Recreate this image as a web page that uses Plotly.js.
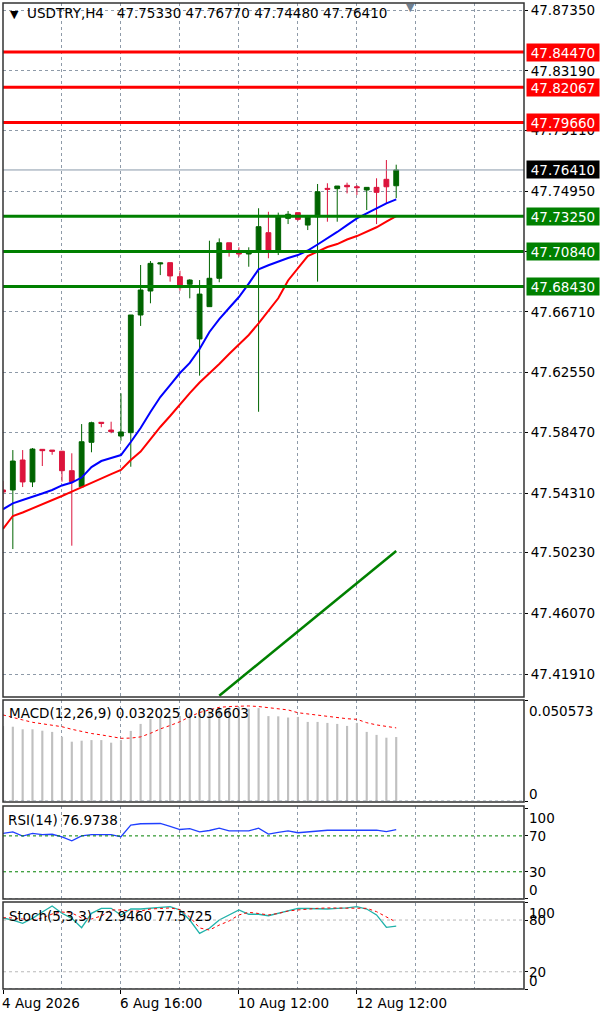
<!DOCTYPE html>
<html>
<head>
<meta charset="utf-8">
<script src="https://cdn.plot.ly/plotly-3.0.1.min.js"></script>
<style>
  html, body { margin: 0; padding: 0; background: #fff; }
  #chart { width: 600px; height: 1011px; }
</style>
</head>
<body>
<div id="chart"></div>
<script>
// USDTRY H4 bars, index 0..40 (oldest first)
const bars = [0, 1, 2, 3, 4, 5, 6, 7, 8, 9, 10, 11, 12, 13, 14, 15, 16, 17, 18, 19, 20,
  21, 22, 23, 24, 25, 26, 27, 28, 29, 30, 31, 32, 33, 34, 35, 36, 37, 38, 39, 40];

const open = [47.5452, 47.5452, 47.5657, 47.5507, 47.5730, 47.5725, 47.5717, 47.5584, 47.5474, 47.5778,
  47.5915, 47.5862, 47.5821, 47.5844, 47.6649, 47.6813, 47.6998, 47.7007, 47.6911, 47.6859,
  47.6485, 47.6706, 47.6900, 47.7143, 47.7080, 47.7066, 47.7082, 47.7212, 47.7089, 47.7310,
  47.7349, 47.7264, 47.7321, 47.7515, 47.7513, 47.7536, 47.7526, 47.7504, 47.7522, 47.7577, 47.7533];
const high = [47.5513, 47.5725, 47.5725, 47.5739, 47.5732, 47.5725, 47.5719, 47.5703, 47.5903, 47.5919,
  47.5915, 47.5919, 47.6113, 47.6649, 47.6991, 47.7018, 47.7007, 47.7007, 47.6952, 47.6893,
  47.6888, 47.7157, 47.7173, 47.7143, 47.7112, 47.7112, 47.7379, 47.7355, 47.7349, 47.7360,
  47.7349, 47.7333, 47.7545, 47.7550, 47.7531, 47.7554, 47.7538, 47.7522, 47.7584, 47.7709, 47.7677];
const low = [47.5383, 47.5048, 47.5472, 47.5472, 47.5616, 47.5693, 47.5509, 47.5071, 47.5474, 47.5710,
  47.5881, 47.5840, 47.5789, 47.5611, 47.6574, 47.6729, 47.6922, 47.6877, 47.6815, 47.6763,
  47.6234, 47.6706, 47.6873, 47.7048, 47.7048, 47.6979, 47.5987, 47.7037, 47.7059, 47.7271,
  47.7294, 47.7230, 47.6877, 47.7287, 47.7287, 47.7481, 47.7470, 47.7367, 47.7271, 47.7413, 47.7448];
const close = [47.5438, 47.5650, 47.5507, 47.5732, 47.5721, 47.5717, 47.5584, 47.5509, 47.5782, 47.5912,
  47.5908, 47.5851, 47.5849, 47.6649, 47.6820, 47.7002, 47.7005, 47.6916, 47.6836, 47.6888,
  47.6792, 47.6900, 47.7143, 47.7082, 47.7066, 47.7075, 47.7253, 47.7093, 47.7321, 47.7338,
  47.7303, 47.7321, 47.7492, 47.7509, 47.7531, 47.7526, 47.7520, 47.7522, 47.7488, 47.7526, 47.7641];

// moving averages (blue fast, red slow)
const maFast = [47.5320, 47.5361, 47.5383, 47.5404, 47.5428, 47.5452, 47.5483, 47.5503, 47.5537, 47.5609,
  47.5650, 47.5671, 47.5691, 47.5780, 47.5876, 47.5985, 47.6088, 47.6170, 47.6252, 47.6321,
  47.6416, 47.6533, 47.6621, 47.6697, 47.6772, 47.6864, 47.6961, 47.6989, 47.7016, 47.7039,
  47.7059, 47.7090, 47.7131, 47.7172, 47.7217, 47.7264, 47.7310, 47.7344, 47.7379, 47.7412, 47.7440];
const maSlow = [47.5185, 47.5274, 47.5298, 47.5325, 47.5356, 47.5383, 47.5411, 47.5441, 47.5472, 47.5503,
  47.5534, 47.5561, 47.5589, 47.5657, 47.5715, 47.5801, 47.5883, 47.5958, 47.6040, 47.6115,
  47.6187, 47.6249, 47.6314, 47.6382, 47.6447, 47.6512, 47.6592, 47.6676, 47.6763, 47.6885,
  47.6970, 47.7052, 47.7082, 47.7114, 47.7134, 47.7165, 47.7189, 47.7219, 47.7249, 47.7287, 47.7326];

// drawn trendline (two anchor bars and prices)
const trendBars = [22, 40];
const trendPrices = [47.4045, 47.5035];

const resistance = [47.84470, 47.82067, 47.79660];
const support = [47.73250, 47.70840, 47.68430];
const lastPrice = 47.76410;

const priceTicks = [47.87350, 47.83190, 47.79110, 47.74950, 47.70830, 47.66710, 47.62550,
  47.58470, 47.54310, 47.50230, 47.46070, 47.41910];

const macdMain = [0.0376, 0.0372, 0.0359, 0.0359, 0.0352, 0.0346, 0.0322, 0.0297, 0.0302, 0.0305,
  0.0305, 0.0292, 0.0305, 0.0351, 0.0386, 0.0411, 0.0421, 0.0426, 0.0426, 0.0440,
  0.0436, 0.0450, 0.0460, 0.0468, 0.0470, 0.0462, 0.0465, 0.0425, 0.0424, 0.0418,
  0.0421, 0.0396, 0.0396, 0.0391, 0.0386, 0.0376, 0.0391, 0.0346, 0.0331, 0.0317, 0.032025];
const macdSignal = [0.0431, 0.0417, 0.0406, 0.0394, 0.0387, 0.0380, 0.0372, 0.0359, 0.0348, 0.0338,
  0.0331, 0.0321, 0.0314, 0.0315, 0.0321, 0.0339, 0.0361, 0.0378, 0.0397, 0.0422,
  0.0443, 0.0456, 0.0469, 0.0473, 0.0476, 0.0476, 0.0473, 0.0468, 0.0462, 0.0456,
  0.0442, 0.0436, 0.0431, 0.0423, 0.0418, 0.0412, 0.0409, 0.0392, 0.0381, 0.0372, 0.036603];

const rsi = [72.7, 74.5, 69.8, 72.7, 71.5, 71.8, 69.0, 64.5, 70.0, 71.5,
  71.5, 71.5, 69.0, 82.0, 83.5, 83.8, 83.8, 80.5, 77.1, 78.0,
  74.5, 76.0, 78.6, 75.5, 75.5, 75.5, 78.6, 72.0, 74.0, 75.6,
  73.5, 74.5, 76.0, 76.3, 76.3, 76.3, 76.3, 76.3, 76.3, 74.8, 76.9738];

const stochMain = [82.4, 80.0, 76.2, 82.0, 89.3, 96.3, 87.8, 82.0, 71.1, 87.8,
  93.6, 93.6, 85.9, 92.8, 92.8, 93.6, 94.3, 95.5, 91.7, 80.0,
  64.6, 70.4, 80.0, 85.9, 91.7, 86.7, 86.7, 85.0, 87.8, 90.5,
  93.6, 93.4, 92.8, 92.8, 93.6, 94.0, 95.5, 92.8, 85.9, 71.6, 72.946];
const stochSignal = [82.7, 82.4, 81.2, 80.0, 82.4, 87.0, 89.3, 88.2, 82.4, 81.2,
  84.7, 91.7, 91.7, 90.5, 90.5, 92.8, 93.4, 94.0, 92.2, 83.5,
  70.8, 68.4, 74.2, 78.9, 85.9, 89.0, 87.6, 85.9, 87.6, 90.5,
  91.7, 92.8, 93.6, 94.0, 94.0, 94.3, 94.0, 93.6, 89.7, 83.9, 77.5725];

const timeTickBars = [0, 12, 24, 36];
const timeTickText = ['4 Aug 2026', '6 Aug 16:00', '10 Aug 12:00', '12 Aug 12:00'];

// ---- page geometry (pixels -> paper fractions)
const W = 600, H = 1011;
const M = { l: 3, r: 76, t: 3, b: 22, pad: 0 };
const py = p => (H - M.b - p) / (H - M.t - M.b);

const FONT = 'DejaVu Sans';
const FS = 13.5;
const GRID = '#8e9aa8';

const traces = [
  {
    type: 'candlestick', x: bars, open: open, high: high, low: low, close: close,
    xaxis: 'x', yaxis: 'y', whiskerwidth: 0, hoverinfo: 'skip',
    increasing: { line: { color: '#006400', width: 1 }, fillcolor: '#006400' },
    decreasing: { line: { color: '#dc143c', width: 1 }, fillcolor: '#dc143c' }
  },
  { type: 'scatter', mode: 'lines', x: bars, y: maFast, xaxis: 'x', yaxis: 'y',
    line: { color: '#0000ff', width: 2 }, hoverinfo: 'skip' },
  { type: 'scatter', mode: 'lines', x: bars, y: maSlow, xaxis: 'x', yaxis: 'y',
    line: { color: '#ff0000', width: 2 }, hoverinfo: 'skip' },
  { type: 'scatter', mode: 'lines', x: trendBars, y: trendPrices, xaxis: 'x', yaxis: 'y',
    line: { color: '#008000', width: 2.5 }, hoverinfo: 'skip' },

  { type: 'bar', x: bars, y: macdMain, xaxis: 'x', yaxis: 'y2', width: 0.22,
    marker: { color: '#c0c0c0', line: { width: 0 } }, hoverinfo: 'skip' },
  { type: 'scatter', mode: 'lines', x: bars, y: macdSignal, xaxis: 'x', yaxis: 'y2',
    line: { color: '#ff0000', width: 1, dash: '3px,3px' }, hoverinfo: 'skip' },

  { type: 'scatter', mode: 'lines', x: bars, y: rsi, xaxis: 'x', yaxis: 'y3',
    line: { color: '#2040ff', width: 1.3 }, hoverinfo: 'skip' },

  { type: 'scatter', mode: 'lines', x: bars, y: stochMain, xaxis: 'x', yaxis: 'y4',
    line: { color: '#20b2aa', width: 1.3 }, hoverinfo: 'skip' },
  { type: 'scatter', mode: 'lines', x: bars, y: stochSignal, xaxis: 'x', yaxis: 'y4',
    line: { color: '#ff0000', width: 1, dash: '3px,3px' }, hoverinfo: 'skip' }
];

const shapes = [];
const hline = (yref, v, color, width, dash) => shapes.push({
  type: 'line', xref: 'paper', x0: 0, x1: 1, yref: yref, y0: v, y1: v,
  line: { color: color, width: width, dash: dash || 'solid' }
});

hline('y', lastPrice, '#8898aa', 1);
resistance.forEach(v => hline('y', v, '#ff0000', 3));
support.forEach(v => hline('y', v, '#008000', 3));
hline('y2', 0, GRID, 1, '3px,3px');
hline('y3', 70, '#008000', 1, '3px,3px');
hline('y3', 30, '#008000', 1, '3px,3px');
hline('y3', 0, GRID, 1, '3px,3px');
hline('y4', 80, '#b8b8b8', 1, '3px,3px');
hline('y4', 20, '#b8b8b8', 1, '3px,3px');
hline('y4', 0, GRID, 1, '3px,3px');

// panel frames
[[3, 697], [700, 802], [806, 899], [902, 989]].forEach(([top, bot]) => shapes.push({
  type: 'rect', xref: 'paper', yref: 'paper', x0: 0, x1: 1, y0: py(bot), y1: py(top),
  line: { color: '#333', width: 1.5 }, fillcolor: 'rgba(0,0,0,0)'
}));

const annotations = [];
const note = (o) => annotations.push(Object.assign({
  showarrow: false, font: { family: FONT, size: FS, color: '#000' }
}, o));

// level labels on the price scale
const levelBox = (v, bg) => note({
  xref: 'paper', x: 1, xanchor: 'left', xshift: 2, yref: 'y', y: v, yanchor: 'middle',
  text: v.toFixed(5), bgcolor: bg, width: 70, height: 15, borderpad: 1, align: 'center',
  font: { family: FONT, size: FS, color: '#fff' }
});
resistance.forEach(v => levelBox(v, '#ff0000'));
support.forEach(v => levelBox(v, '#008000'));
levelBox(lastPrice, '#000');

// panel titles
note({ xref: 'paper', x: 0, xanchor: 'left', xshift: 5, yref: 'paper', y: py(13), yanchor: 'middle',
  text: '<span style="font-size:11px">▼</span>\u00a0 USDTRY,H4\u00a0\u00a0 47.75330 47.76770 47.74480 47.76410' });
note({ xref: 'paper', x: 0.783, xanchor: 'center', yref: 'paper', y: py(7), yanchor: 'middle',
  text: '▼', font: { family: FONT, size: 11, color: '#708090' } });
note({ xref: 'paper', x: 0, xanchor: 'left', xshift: 4, yref: 'paper', y: py(713), yanchor: 'middle',
  text: 'MACD(12,26,9) 0.032025 0.036603' });
note({ xref: 'paper', x: 0, xanchor: 'left', xshift: 3, yref: 'paper', y: py(820), yanchor: 'middle',
  text: 'RSI(14) 76.9738' });
note({ xref: 'paper', x: 0, xanchor: 'left', xshift: 4, yref: 'paper', y: py(916), yanchor: 'middle',
  text: 'Stoch(5,3,3) 72.9460 77.5725' });

// sub-window scale labels
const sideLabel = (text, pix) => note({
  xref: 'paper', x: 1, xanchor: 'left', xshift: 3, yref: 'paper', y: py(pix), yanchor: 'middle', text: text
});
sideLabel('0.050573', 710.7);
sideLabel('0', 794.3);
sideLabel('100', 817.7);
sideLabel('70', 835.7);
sideLabel('30', 871.7);
sideLabel('0', 890);
sideLabel('80', 920);
sideLabel('100', 912.7);
sideLabel('20', 972.3);
sideLabel('0', 980.7);

// time labels
timeTickBars.forEach((b, i) => note({
  xref: 'x', x: b, xanchor: 'left', xshift: -3, yref: 'paper', y: py(1003), yanchor: 'middle',
  text: timeTickText[i]
}));

const subAxis = (domain, range, ticks) => ({
  domain: domain, range: range, anchor: 'x', side: 'right',
  tickvals: ticks, showticklabels: false, ticks: 'outside', ticklen: 3, tickcolor: '#000',
  showgrid: false, zeroline: false, showline: false, fixedrange: true
});

const layout = {
  width: W, height: H,
  margin: M,
  paper_bgcolor: '#fff', plot_bgcolor: '#fff',
  showlegend: false, hovermode: false, dragmode: false,
  xaxis: {
    domain: [0, 1], range: [0, 53], anchor: 'y4',
    tickvals: timeTickBars, showticklabels: false, ticks: 'outside', ticklen: 4, tickcolor: '#000',
    showgrid: true, gridcolor: GRID, griddash: '3px,3px', gridwidth: 1,
    minor: { tickvals: [6, 18, 30, 42, 48], showgrid: true, gridcolor: GRID, griddash: '3px,3px', gridwidth: 1, ticks: '' },
    zeroline: false, showline: false, rangeslider: { visible: false }, fixedrange: true
  },
  yaxis: {
    domain: [py(697), py(3)], range: [47.4036, 47.8783], anchor: 'x', side: 'right',
    tickvals: priceTicks, ticktext: priceTicks.map(v => v.toFixed(5)),
    ticks: 'outside', ticklen: 3, tickcolor: '#000',
    tickfont: { family: FONT, size: FS, color: '#000' },
    showgrid: true, gridcolor: GRID, griddash: '3px,3px', gridwidth: 1,
    zeroline: false, showline: false, fixedrange: true
  },
  yaxis2: subAxis([py(801), py(700)], [0, 0.050573], [0, 0.050573]),
  yaxis3: subAxis([py(898.7), py(806)], [0, 103.3], [0, 30, 70, 100]),
  yaxis4: subAxis([py(989), py(902.8)], [0, 100], [0, 20, 80, 100]),
  shapes: shapes,
  annotations: annotations
};

Plotly.newPlot('chart', traces, layout, { displayModeBar: false, staticPlot: true });
</script>
</body>
</html>
